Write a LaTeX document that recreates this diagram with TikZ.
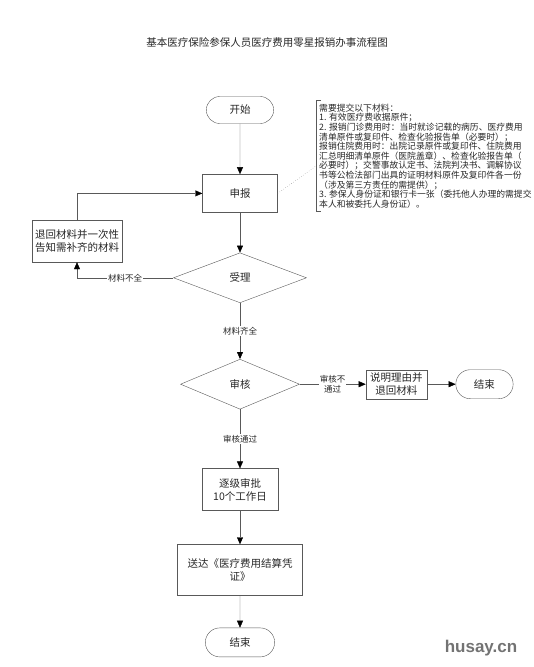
\documentclass[tikz,border=0pt]{standalone}
\usepackage{fontspec}
\setmainfont{Noto Sans CJK SC}
\newfontfamily\markfont{Liberation Sans}
\usetikzlibrary{arrows.meta, positioning, shapes.geometric, shapes.misc}

\begin{document}
\begin{tikzpicture}[x=1pt, y=-1pt, font=\fontsize{10.5}{13}\selectfont, text=black!85, box/.style={draw=black!65, align=center, inner sep=2pt}, term/.style={draw=black!65, rounded rectangle, minimum width=76pt, minimum height=29pt}, check/.style={draw=black!65, diamond, inner sep=0pt}, arrow/.style={-{Triangle[length=7pt, width=6pt, color=black]}, draw=black!65}, lbl/.style={fill=white, align=center, font=\fontsize{8.5}{10}\selectfont, inner sep=1pt}]

\useasboundingbox (0,0) rectangle (534,667);
\node (title) at (267,43) {基本医疗保险参保人员医疗费用零星报销办事流程图};
\node[term, minimum width=74pt, minimum height=27pt] (start) at (240,110) {开始};
\node[box, below=50.5pt of start, minimum width=75pt, minimum height=38pt] (apply) {申报};
\node[check, below=40pt of apply, minimum width=133pt, minimum height=50pt] (accept) {受理};
\node[check, below=56pt of accept, minimum width=119pt, minimum height=50pt] (review) {审核};
\node[box, right=66pt of review, minimum width=61pt, minimum height=29pt] (reason) {说明理由并\\退回材料};
\node[term, right=28.5pt of reason, minimum width=64pt] (end1) {结束};
\node[box, below=59pt of review, minimum width=76pt, minimum height=42pt] (approve) {逐级审批\\10个工作日};
\node[box, below=33.5pt of approve, minimum width=125pt, minimum height=51pt] (deliver) {送达《医疗费用结算凭\\证》};
\node[term, below=32pt of deliver] (end2) {结束};
\node[box, minimum width=90pt, minimum height=42pt] (back) at (77,241) {退回材料并一次性\\告知需补齐的材料};
\node[align=left, anchor=west, inner sep=3pt, font=\fontsize{8.8}{9.6}\selectfont] (note) at (316,156) {需要提交以下材料：\\1. 有效医疗费收据原件；\\2. 报销门诊费用时：当时就诊记载的病历、医疗费用\\清单原件或复印件、检查化验报告单（必要时）；\\报销住院费用时：出院记录原件或复印件、住院费用\\汇总明细清单原件（医院盖章）、检查化验报告单（\\必要时）；交警事故认定书、法院判决书、调解协议\\书等公检法部门出具的证明材料原件及复印件各一份\\（涉及第三方责任的需提供）；\\3. 参保人身份证和银行卡一张（委托他人办理的需提交\\本人和被委托人身份证）。};
\node[font=\markfont\bfseries\fontsize{17}{17}\selectfont, text=black!55] (mark) at (481,648) {husay.cn};

\draw[draw=black!65] ([xshift=5pt]note.north west) -- (note.north west) -- (note.south west) -- ++(5pt,0);
\draw[dotted, draw=black!55] (apply.east) -- ([yshift=-10pt]note.west);
\draw[arrow] (start) -- (apply);
\draw[arrow] (apply) -- (accept);
\draw[arrow] (accept) -- node[lbl] {材料齐全} (review);
\draw[arrow] (accept) -| node[lbl, pos=0.25] {材料不全} (back);
\draw[arrow] (back) |- (apply);
\draw[arrow] (review) -- node[lbl] {审核不\\通过} (reason);
\draw[arrow] (reason) -- (end1);
\draw[arrow] (review) -- node[lbl] {审核通过} (approve);
\draw[arrow] (approve) -- (deliver);
\draw[arrow] (deliver) -- (end2);

\end{tikzpicture}
\end{document}
